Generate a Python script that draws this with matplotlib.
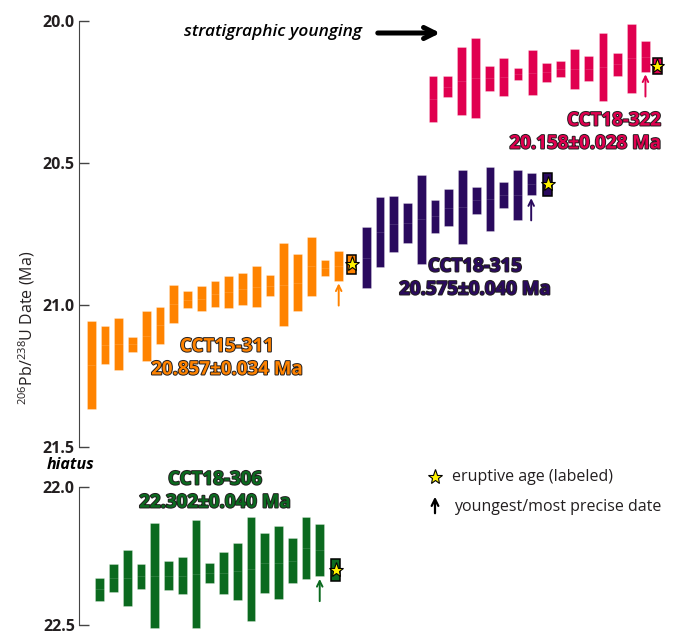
import numpy as np
import matplotlib
matplotlib.use("Agg")
import matplotlib.pyplot as plt
import matplotlib.patheffects as pe

plt.rcParams['font.family'] = ['Open Sans', 'DejaVu Sans']
plt.rcParams['mathtext.fontset'] = 'custom'
plt.rcParams['mathtext.rm'] = 'Open Sans'

# single-grain 206Pb/238U dates (Ma) and 2-sigma half widths
cct15_311_date = [21.210, 21.142, 21.138, 21.138, 21.110, 21.072, 20.997, 20.982, 20.978, 20.962,
                  20.955, 20.944, 20.935, 20.932, 20.928, 20.922, 20.864, 20.870, 20.862]
cct15_311_err = [0.155, 0.067, 0.092, 0.027, 0.088, 0.065, 0.067, 0.030, 0.044, 0.046,
                 0.057, 0.057, 0.072, 0.037, 0.146, 0.100, 0.105, 0.028, 0.052]

cct18_315_date = [20.833, 20.742, 20.715, 20.712, 20.698, 20.688, 20.657, 20.654, 20.632, 20.626,
                  20.613, 20.613, 20.574]
cct18_315_err = [0.108, 0.123, 0.098, 0.071, 0.157, 0.057, 0.065, 0.130, 0.049, 0.113,
                 0.047, 0.089, 0.040]

cct18_322_date = [20.274, 20.232, 20.211, 20.202, 20.202, 20.197, 20.185, 20.182, 20.181, 20.169,
                  20.169, 20.168, 20.162, 20.153, 20.132, 20.125]
cct18_322_err = [0.082, 0.037, 0.120, 0.141, 0.045, 0.067, 0.021, 0.079, 0.033, 0.028,
                 0.070, 0.045, 0.121, 0.039, 0.121, 0.053]

cct18_306_date = [22.370, 22.330, 22.329, 22.323, 22.322, 22.321, 22.321, 22.316, 22.311, 22.312,
                  22.306, 22.298, 22.275, 22.274, 22.267, 22.221, 22.228]
cct18_306_err = [0.042, 0.051, 0.101, 0.045, 0.190, 0.053, 0.068, 0.195, 0.037, 0.077,
                 0.102, 0.188, 0.108, 0.133, 0.082, 0.112, 0.095]

# eruptive ages
samples = ['CCT15-311', 'CCT18-315', 'CCT18-322', 'CCT18-306']
eruptive_age = [20.857, 20.575, 20.158, 22.302]
eruptive_err = [0.034, 0.040, 0.028, 0.040]

colors = ['#FF8300', '#2A0A5E', '#E0004F', '#0B6A1F']
ink = '#231F20'

fig = plt.figure(figsize=(6.79, 6.35), dpi=100)
W, H = 679, 635
ax1 = fig.add_axes([79 / W, 1 - 447 / H, 1 - 79 / W, (447 - 21) / H])
ax2 = fig.add_axes([79 / W, 1 - 625 / H, 1 - 79 / W, (625 - 487) / H])

xl = (-0.887, 42.75)
for ax, lim, ticks in [(ax1, (21.5, 20.0), [20.0, 20.5, 21.0, 21.5]),
                       (ax2, (22.5, 22.0), [22.0, 22.5])]:
    ax.set_xlim(*xl)
    ax.set_ylim(*lim)
    ax.set_yticks(ticks)
    ax.set_yticklabels(['%.1f' % t for t in ticks], fontweight='bold', fontsize=11.5, color=ink)
    ax.tick_params(axis='y', direction='in', length=7, width=1, color='#444444', pad=3)
    ax.set_xticks([])
    for s in ['top', 'right', 'bottom']:
        ax.spines[s].set_visible(False)
    ax.spines['left'].set_color('#444444')
    ax.patch.set_alpha(0)


def draw_group(ax, dates, errs, start, step, color, age, aerr, star_x):
    dates = np.array(dates)
    errs = np.array(errs)
    x = start + step * np.arange(len(dates))
    ax.bar(x, 2 * errs, bottom=dates - errs, width=0.64, color=color,
           edgecolor=(1, 1, 1, 0.3), linewidth=0.6, clip_on=False, zorder=3)
    ax.hlines(dates, x - 0.31, x + 0.31, color=(1, 1, 1, 0.15), lw=0.6, zorder=4, clip_on=False)
    # eruptive age bar with star
    ax.bar([star_x], [2 * aerr], bottom=[age - aerr], width=0.66, color=color,
           edgecolor='black', linewidth=1.1, clip_on=False, zorder=3)
    ax.plot([star_x], [age], marker='*', ms=11, mfc='#FFF200', mec='black', mew=0.8,
            zorder=5, clip_on=False)
    # youngest / most precise arrow
    ax.annotate('', xy=(x[-1], dates[-1] + errs[-1]), xytext=(0, -18),
                textcoords='offset points',
                arrowprops=dict(arrowstyle='->', color=color, lw=1.4, shrinkA=0, shrinkB=2,
                                mutation_scale=10))


draw_group(ax1, cct15_311_date, cct15_311_err, 0.0, 1.0, colors[0], eruptive_age[0], eruptive_err[0], 18.95)
draw_group(ax1, cct18_315_date, cct18_315_err, 20.0, 1.0, colors[1], eruptive_age[1], eruptive_err[1], 33.2)
draw_group(ax1, cct18_322_date, cct18_322_err, 24.86, 1.03, colors[2], eruptive_age[2], eruptive_err[2], 41.16)
draw_group(ax2, cct18_306_date, cct18_306_err, 0.62, 1.0, colors[3], eruptive_age[3], eruptive_err[3], 17.8)

stroke = [pe.withStroke(linewidth=1.4, foreground=ink)]
label_kw = dict(fontsize=13.5, fontweight='bold', path_effects=stroke, linespacing=1.2)


def fx(px):
    return px / W


def fy(py):
    return 1 - py / H


fig.text(fx(661), fy(132), '%s\n%.3f±%.3f Ma' % (samples[2], eruptive_age[2], eruptive_err[2]),
         color=colors[2], ha='right', va='center', multialignment='right', **label_kw)
fig.text(fx(475), fy(278), '%s\n%.3f±%.3f Ma' % (samples[1], eruptive_age[1], eruptive_err[1]),
         color=colors[1], ha='center', va='center', **label_kw)
fig.text(fx(227), fy(358), '%s\n%.3f±%.3f Ma' % (samples[0], eruptive_age[0], eruptive_err[0]),
         color=colors[0], ha='center', va='center', **label_kw)
fig.text(fx(215), fy(491), '%s\n%.3f±%.3f Ma' % (samples[3], eruptive_age[3], eruptive_err[3]),
         color=colors[3], ha='center', va='center', **label_kw)

# stratigraphic younging
fig.text(fx(362), fy(32), 'stratigraphic younging', ha='right', va='center',
         fontsize=12.5, fontweight='semibold', style='italic', color='black')
fig.add_artist(matplotlib.patches.FancyArrowPatch((fx(375), fy(33)), (fx(443), fy(33)),
               transform=fig.transFigure, arrowstyle='->', mutation_scale=20, lw=3.6, color='black'))

fig.text(fx(47), fy(465), 'hiatus', ha='left', va='center', fontsize=11.5,
         fontweight='bold', style='italic', color='black')

# y label
fig.text(fx(27), fy(328), r'$^{206}$Pb/$^{238}$U Date (Ma)', rotation=90, ha='center',
         va='center', fontsize=11.5, color=ink)

# legend
fig.lines.append(matplotlib.lines.Line2D([fx(435)], [fy(477)], marker='*', ms=11, mfc='#FFF200',
                                         mec='black', mew=0.8, transform=fig.transFigure))
fig.text(fx(452), fy(477), 'eruptive age (labeled)', ha='left', va='center', fontsize=11.5, color=ink)
fig.add_artist(matplotlib.patches.FancyArrowPatch((fx(435), fy(516)), (fx(435), fy(494)),
               transform=fig.transFigure, arrowstyle='->', mutation_scale=12, lw=1.6, color='black'))
fig.text(fx(454), fy(507), 'youngest/most precise date', ha='left', va='center', fontsize=11.5, color=ink)

fig.savefig('out.png', dpi=100)
